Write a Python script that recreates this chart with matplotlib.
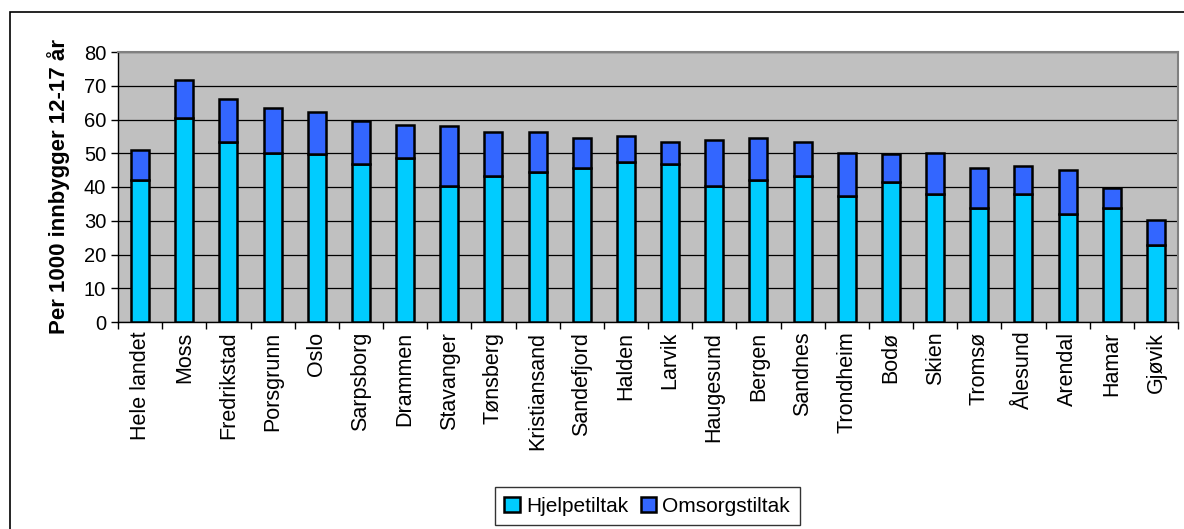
import matplotlib
matplotlib.use('Agg')
import matplotlib.pyplot as plt
import matplotlib.patches as patches
import numpy as np

plt.rcParams['font.family'] = ['Liberation Sans', 'DejaVu Sans']

cities = ['Hele landet', 'Moss', 'Fredrikstad', 'Porsgrunn', 'Oslo', 'Sarpsborg',
          'Drammen', 'Stavanger', 'Tønsberg', 'Kristiansand', 'Sandefjord', 'Halden',
          'Larvik', 'Haugesund', 'Bergen', 'Sandnes', 'Trondheim', 'Bodø', 'Skien',
          'Tromsø', 'Ålesund', 'Arendal', 'Hamar', 'Gjøvik']
# hjelpetiltak per 1000
hjelp = [42.1, 60.3, 53.2, 50.2, 49.7, 46.8, 48.6, 40.3, 43.2, 44.3, 45.5, 47.3,
         46.7, 40.3, 42.1, 43.2, 37.3, 41.4, 37.9, 33.8, 37.9, 32.0, 33.8, 22.9]
# total (hjelpetiltak + omsorgstiltak)
total = [50.9, 71.6, 66.2, 63.3, 62.2, 59.7, 58.5, 58.0, 56.3, 56.2, 54.4, 55.0,
         53.3, 53.9, 54.4, 53.3, 50.2, 49.7, 50.2, 45.6, 46.2, 45.0, 39.8, 30.2]
omsorg = [t - h for t, h in zip(total, hjelp)]

fig = plt.figure(figsize=(11.84, 5.29), dpi=100)
ax = fig.add_axes([118/1184, 1 - 322/529, (1178 - 118)/1184, (322 - 52)/529])

x = np.arange(len(cities))
ax.bar(x, hjelp, width=0.41, color='#00CCFF', edgecolor='black', linewidth=1.8,
       label='Hjelpetiltak', zorder=3)
ax.bar(x, omsorg, bottom=hjelp, width=0.41, color='#3366FF', edgecolor='black',
       linewidth=1.8, label='Omsorgstiltak', zorder=3)

ax.set_facecolor('#C0C0C0')
ax.set_xlim(-0.5, len(cities) - 0.5)
ax.set_ylim(0, 80)
ax.set_yticks(range(0, 81, 10))
ax.yaxis.grid(True, color='black', linewidth=0.9, zorder=1)
ax.tick_params(axis='y', labelsize=14.5, length=5, direction='out', width=1)

ax.set_xticks(x)
ax.set_xticklabels(cities, rotation=90, fontsize=15.5)
ax.set_xticks(np.arange(-0.5, len(cities), 1), minor=True)
ax.tick_params(axis='x', which='major', length=0, pad=7)
ax.tick_params(axis='x', which='minor', length=5, width=1)

for s in ['top', 'right']:
    ax.spines[s].set_color('#808080')
    ax.spines[s].set_linewidth(1.5)
for s in ['left', 'bottom']:
    ax.spines[s].set_color('black')
    ax.spines[s].set_linewidth(1)

ax.set_ylabel('Per 1000 innbygger 12-17 år', fontsize=16, fontweight='bold', labelpad=10)

leg = fig.legend(loc='center', bbox_to_anchor=(647/1184, 1 - 506/529), ncol=2,
                 fontsize=15, frameon=True, fancybox=False, edgecolor='black',
                 handlelength=0.75, handleheight=0.75, handletextpad=0.3,
                 columnspacing=0.6, borderpad=0.45)
leg.get_frame().set_linewidth(1)

# outer chart border
border = patches.Rectangle((10/1184, -0.1), 2, 1 - 12/529 + 0.1,
                           transform=fig.transFigure, fill=False,
                           edgecolor='black', linewidth=1.2)
fig.patches.append(border)

fig.savefig('out.png', dpi=100, facecolor='white')
